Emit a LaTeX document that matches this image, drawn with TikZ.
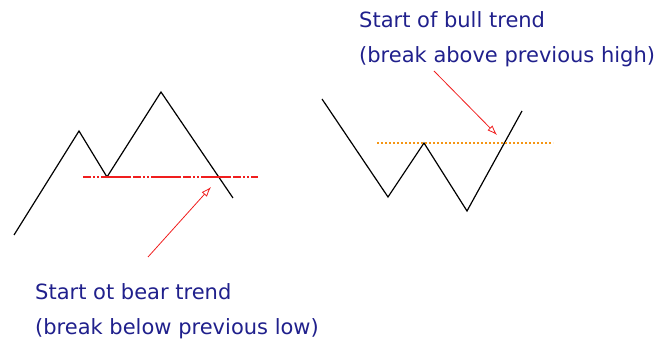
\documentclass[tikz,border=0pt]{standalone}
\usepackage{fontspec}
\setmainfont{DejaVu Sans}
\usetikzlibrary{arrows.meta, positioning}
\definecolor{notenavy}{RGB}{32,32,140}
\definecolor{breakred}{RGB}{240,30,30}
\definecolor{breakorange}{RGB}{245,150,20}

\begin{document}
\begin{tikzpicture}[x=1pt, y=-1pt,
  price/.style={draw=black, line width=1.2pt},
  note/.style={font=\fontsize{21}{35}\selectfont, text=notenavy, align=left, inner sep=0pt},
  ptr/.style={-{Latex[open, length=10pt, width=7pt]}, breakred, line width=0.8pt}
]
  \useasboundingbox (0,0) rectangle (662,344);
  % bear side (M shape)
  \coordinate (m0) at (14,235);
  \coordinate (m1) at (79,131);
  \coordinate (m2) at (107,177);
  \coordinate (m3) at (161,92);
  \coordinate (m4) at (233,198);
  \draw[price] (m0) -- (m1) -- (m2) -- (m3) -- (m4);
  \coordinate (lowL) at (83,177);
  \coordinate (lowR) at (258,177);
  \draw[breakred, line width=1.2pt, dash pattern=on 8pt off 2pt on 2pt off 2pt on 2pt off 2pt on 30pt off 2pt] (lowL) -- (lowR);
  % bull side (W shape)
  \coordinate (w0) at (322,99);
  \coordinate (w1) at (388,197);
  \coordinate (w2) at (424,143);
  \coordinate (w3) at (467,211);
  \coordinate (w4) at (522,111);
  \draw[price] (w0) -- (w1) -- (w2) -- (w3) -- (w4);
  \coordinate (highL) at (377,143);
  \coordinate (highR) at (553,143);
  \draw[breakorange, line width=1.2pt, dash pattern=on 2pt off 2pt] (highL) -- (highR);
  % notes
  \node[note, anchor=west] (bear) at (35,311) {Start ot bear trend\\(break below previous low)};
  \node[note, anchor=west] (bull) at (359,39) {Start of bull trend\\(break above previous high)};
  \coordinate (bearfrom) at (148,257);
  \coordinate (bearhit) at (211,187);
  \coordinate (bullfrom) at (434,71);
  \coordinate (bullhit) at (497,135);
  \draw[ptr] (bearfrom) -- (bearhit);
  \draw[ptr] (bullfrom) -- (bullhit);
\end{tikzpicture}
\end{document}
